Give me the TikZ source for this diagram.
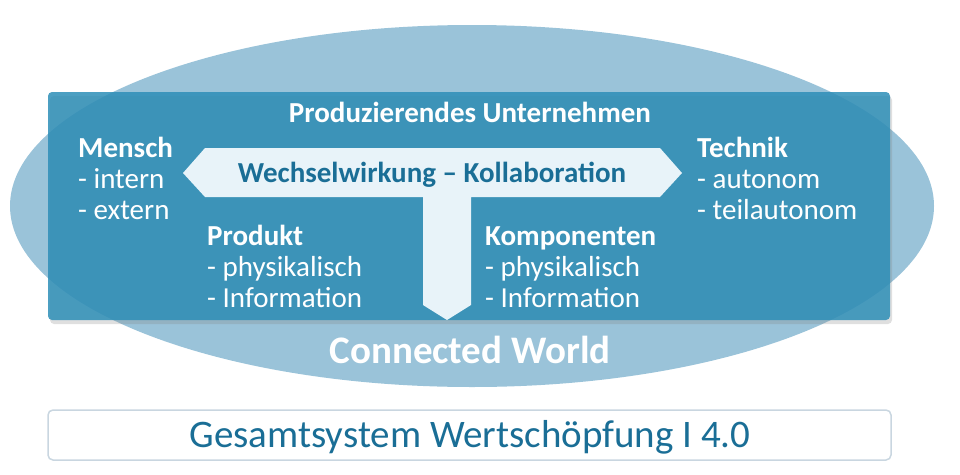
\documentclass[tikz,border=0pt]{standalone}
\usepackage{fontspec}
\setmainfont{Carlito}
\usepackage{tikz}
\usetikzlibrary{positioning,shadows}

\definecolor{ovalblue}{HTML}{9AC3D9}
\definecolor{boxblue}{HTML}{2D8EB7}
\definecolor{arrowfill}{HTML}{E8F3F9}
\definecolor{darkblue}{HTML}{1A6E96}
\definecolor{frame}{HTML}{C9D6E0}

\tikzset{
  whitetxt/.style={text=white, inner sep=0pt, align=left, font=\fontsize{29}{31}\selectfont},
  headtxt/.style={text=white, inner sep=0pt, font=\bfseries\fontsize{29}{31}\selectfont}
}

\begin{document}
\begin{tikzpicture}[x=1pt,y=-1pt]
\useasboundingbox (0,0) rectangle (960,474);

\fill[ovalblue] (472,206) ellipse (462 and 181);
\fill[boxblue, opacity=0.85, rounded corners=4pt, drop shadow={opacity=0.25, shadow xshift=2pt, shadow yshift=-4pt}] (48,92) rectangle (890,320);

\fill[arrowfill] (183,173) -- (205,148) -- (660,148) -- (682,173) -- (660,197)
  -- (471,197) -- (471,305) -- (447,320) -- (423,305) -- (423,197) -- (205,197) -- cycle;

\node[headtxt, anchor=base] (firma) at (470,122) {Produzierendes Unternehmen};
\node[anchor=base, inner sep=0pt, text=darkblue, font=\bfseries\fontsize{29}{31}\selectfont] (wechsel) at (432,182) {Wechselwirkung -- Kollaboration};

\node[whitetxt, anchor=base west] (mensch) at (78,219) {\textbf{Mensch}\\- intern\\- extern};
\node[whitetxt, anchor=base west] (technik) at (697,219) {\textbf{Technik}\\- autonom\\- teilautonom};
\node[whitetxt, anchor=base west] (produkt) at (207,307) {\textbf{Produkt}\\- physikalisch\\- Information};
\node[whitetxt, anchor=base west] (komp) at (485,307) {\textbf{Komponenten}\\- physikalisch\\- Information};

\node[anchor=base, inner sep=0pt, text=white, font=\bfseries\fontsize{39}{42}\selectfont] (world) at (470,363) {Connected World};

\draw[frame, line width=1.5pt, rounded corners=5pt] (48,410) rectangle (891,460);
\node[anchor=base, inner sep=0pt, text=darkblue, font=\fontsize{39}{42}\selectfont] (gesamt) at (470,447) {Gesamtsystem Wertschöpfung I 4.0};
\end{tikzpicture}
\end{document}
